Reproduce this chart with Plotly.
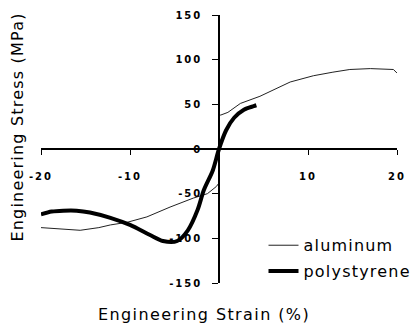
import plotly.graph_objects as go

# Data
al_strain = [-20, -17.5, -15.6, -13.5, -12.2, -10.3, -8.1, -5.5, -2.9, -1.3, -0.3, 0, 0, 0.2, 1.0, 2.4, 4.6, 8.0, 10.6, 12.8, 14.7, 17, 19.6, 20]
al_stress = [-88, -90, -91, -88, -85, -82, -76, -65, -55, -50, -42, -38, 38, 38, 41, 51, 59, 75, 82, 86, 89, 90, 89, 85]

ps_strain = [-20, -18.8, -17.5, -16, -14.5, -12.2, -10, -7.8, -6.3, -4.7, -3.5, -2.4, -1.7, -0.7, 0, 0.8, 1.7, 2.8, 3.9, 4.2]
ps_stress = [-73, -70, -69, -69, -71, -77, -85, -96, -103, -103, -91, -68, -46, -24, 0, 21, 35, 44, 48, 49]

x_ticks = [-20, -10, 10, 20]
y_ticks = [-150, -100, -50, 0, 50, 100, 150]

series_names = ["aluminum", "polystyrene"]
x_title = "Engineering Strain (%)"
y_title = "Engineering Stress (MPa)"


def spaced(text, px):
    return f'<span style="letter-spacing:{px}px">{text}</span>'


fig = go.Figure()
fig.add_trace(go.Scatter(x=al_strain, y=al_stress, mode="lines", name=spaced(series_names[0], 1.2),
                         line=dict(color="#222222", width=1), legendgroup="a"))
fig.add_trace(go.Scatter(x=ps_strain, y=ps_stress, mode="lines", name=spaced(series_names[1], 1.2),
                         line=dict(color="black", width=4, shape="spline", smoothing=0.8),
                         legendgroup="p"))

tick_font = dict(family="DejaVu Sans", size=10, color="black", weight="bold")

fig.update_layout(
    width=411, height=319,
    margin=dict(l=33, r=22, t=7, b=44, autoexpand=False),
    paper_bgcolor="white", plot_bgcolor="white",
    showlegend=True,
    legend=dict(x=0.625, y=0.204, xanchor="left", yanchor="top",
                font=dict(family="DejaVu Sans", size=16, color="black"),
                tracegroupgap=2, bgcolor="rgba(0,0,0,0)"),
    xaxis=dict(range=[-20, 20], anchor="free", position=0.5, automargin=False,
               showline=True, linecolor="black", linewidth=1.5,
               showgrid=False, zeroline=False,
               tickmode="array", tickvals=x_ticks, ticktext=[spaced(v, 2) for v in x_ticks],
               ticks="outside", ticklen=5, tickcolor="black", tickwidth=1,
               ticklabelstandoff=13, tickfont=tick_font),
    yaxis=dict(range=[-150, 150], anchor="free", position=0.5, automargin=False,
               showline=True, linecolor="black", linewidth=1.5,
               showgrid=False, zeroline=False,
               tickmode="array", tickvals=y_ticks, ticktext=[spaced(v, 2) for v in y_ticks],
               ticks="outside", ticklen=6, tickcolor="black", tickwidth=1,
               ticklabelstandoff=8, tickfont=tick_font),
    annotations=[
        dict(text=spaced(x_title, 1.4), xref="paper", yref="paper",
             x=0.458, y=-0.119, xanchor="center", yanchor="middle", showarrow=False,
             font=dict(family="DejaVu Sans", size=16, color="black")),
        dict(text=spaced(y_title, 1.2), xref="paper", yref="paper",
             x=-0.066, y=0.582, xanchor="center", yanchor="middle", showarrow=False,
             textangle=-90, font=dict(family="DejaVu Sans", size=16, color="black")),
    ],
)

fig.write_html("out.html")
